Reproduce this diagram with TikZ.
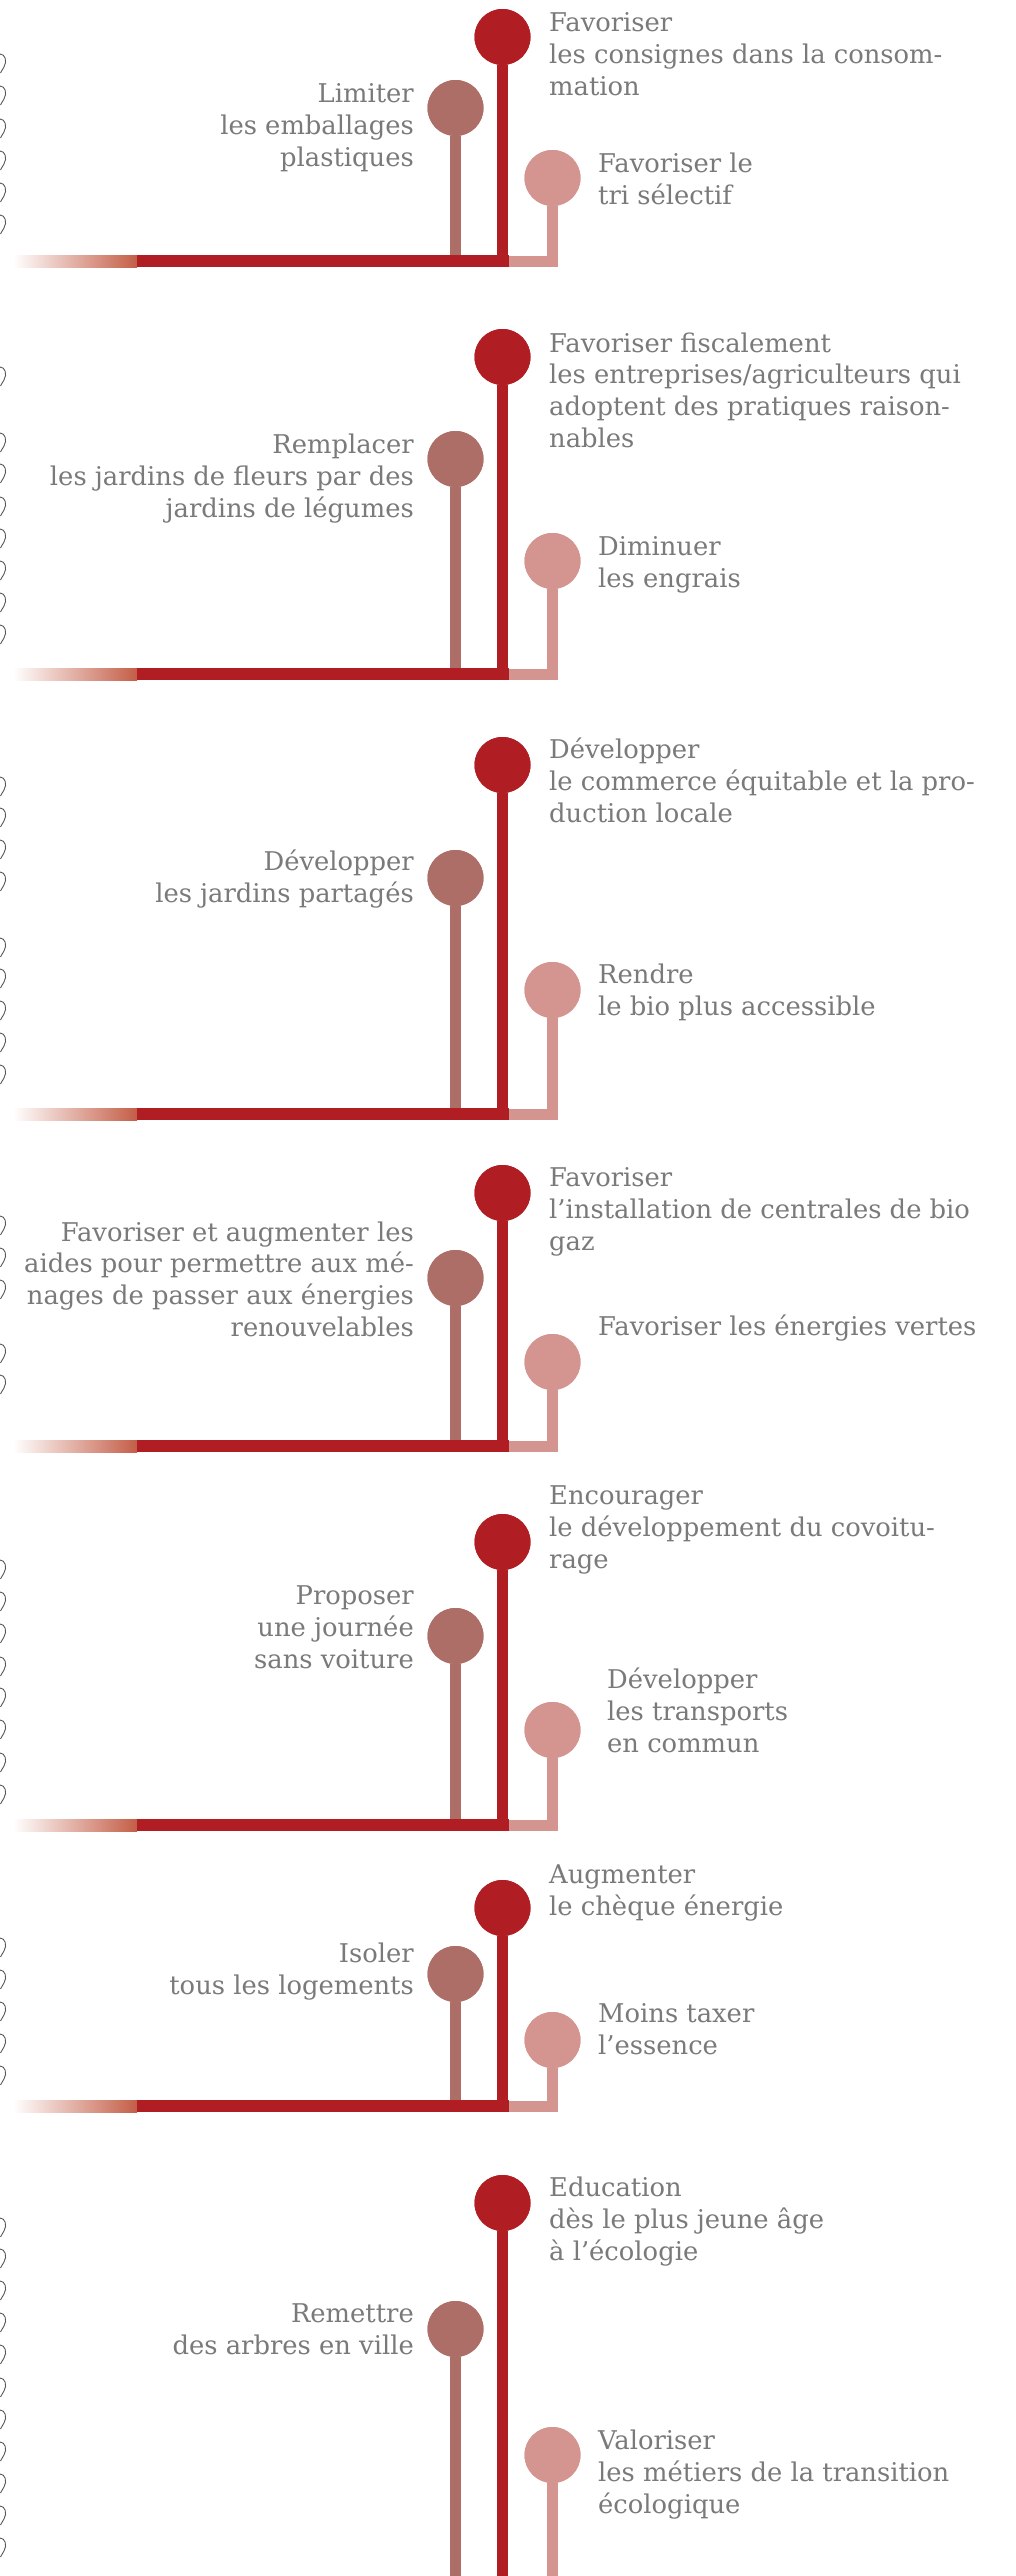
\documentclass[tikz,border=0pt]{standalone}
\usepackage{fontspec}
\setmainfont{DejaVu Serif}
\definecolor{bigred}{HTML}{B01E23}
\definecolor{midbrown}{HTML}{AD6E68}
\definecolor{lightpink}{HTML}{D4948F}
\definecolor{textgray}{HTML}{7A7A7A}
\definecolor{gradend}{HTML}{C45E48}
\definecolor{scalgray}{HTML}{555555}
\tikzset{
  dotbig/.style={circle, fill=bigred, minimum size=56pt, inner sep=0pt},
  dotmid/.style={circle, fill=midbrown, minimum size=56pt, inner sep=0pt},
  dotlight/.style={circle, fill=lightpink, minimum size=56pt, inner sep=0pt},
  stembig/.style={draw=bigred, line width=11pt},
  stemmid/.style={draw=midbrown, line width=11pt},
  stemlight/.style={draw=lightpink, line width=11pt, line join=miter},
  rtxt/.style={anchor=base west, align=left, inner sep=0pt, text=textgray,
    font=\fontsize{25.8}{31.6}\selectfont},
  ltxt/.style={anchor=base east, align=right, inner sep=0pt, text=textgray,
    font=\fontsize{25.8}{31.6}\selectfont},
  scal/.style={draw=scalgray, line width=0.9pt},
}
\newcommand\drawgroup[5]{% #1 id, #2 y big dot, #3 y mid dot, #4 y light dot, #5 y bar
  \coordinate (jm#1) at (455.5,#5);
  \coordinate (jl#1) at (552.5,#5);
  \coordinate (jb#1) at (508,#5);
  \coordinate (bb#1) at (502.5,#5);
  \node[dotbig] (b#1) at (502.5,#2) {};
  \node[dotmid] (m#1) at (455.5,#3) {};
  \node[dotlight] (l#1) at (552.5,#4) {};
  \draw[stemmid] (m#1) -- (jm#1);
  \draw[stemlight] (l#1) -- (jl#1) -- (jb#1);
  \shade[left color=white, right color=gradend] (13,#5-6) rectangle (137,#5+6);
  \fill[bigred] (137,#5-6) rectangle (509,#5+6);
  \draw[stembig] (b#1) -- (bb#1);
  \node[dotbig] at (b#1) {};
  \node[dotmid] at (m#1) {};
  \node[dotlight] at (l#1) {};
}
\newcommand\scallop[1]{%
  \draw[scal] (0,#1-9) .. controls (5,#1-9) and (7.5,#1-2) .. (4,#1+4)
    .. controls (2.5,#1+6.5) and (1.5,#1+8) .. (0.5,#1+10);}
\begin{document}
\begin{tikzpicture}[x=1pt,y=-1pt]
\fill[white] (0,0) rectangle (1016,2576);
\useasboundingbox (0,0) rectangle (1016,2576);

% scallops along the left edge
\foreach \yy in {63,95,128,160,192,224,
                 376,442,473,506,538,570,602,634,
                 786,817,849,881,947,978,1010,1042,1074,
                 1225,1257,1289,1353,1384,
                 1569,1601,1633,1666,1697,1729,1762,1794,
                 1947,1979,2011,2043,2075,
                 2227,2258,2290,2322,2354,2387,2419,2451,2483,2515,2547}
  {\scallop{\yy}}

% groups 1 to 6
\drawgroup{1}{37}{108}{178}{261}
\drawgroup{2}{357}{459}{561}{674}
\drawgroup{3}{765}{878}{990}{1114}
\drawgroup{4}{1193}{1278}{1362}{1446}
\drawgroup{5}{1542}{1636}{1730}{1825}
\drawgroup{6}{1908}{1974}{2040}{2106}

% group 7 (stems run off the bottom)
\coordinate (jm7) at (455.5,2580);
\coordinate (jb7) at (502.5,2580);
\coordinate (jl7) at (552.5,2580);
\node[dotbig] (b7) at (502.5,2203) {};
\node[dotmid] (m7) at (455.5,2329) {};
\node[dotlight] (l7) at (552.5,2455) {};
\draw[stemmid] (m7) -- (jm7);
\draw[stembig] (b7) -- (jb7);
\draw[stemlight] (l7) -- (jl7);
\node[dotbig] at (b7) {};
\node[dotmid] at (m7) {};
\node[dotlight] at (l7) {};

% texts (anchored at the baseline of their last line)
\node[rtxt] (t1a) at (549,95) {Favoriser\\les consignes dans la consom-\\mation};
\node[ltxt] (t1b) at (414,166) {Limiter\\les emballages\\plastiques};
\node[rtxt] (t1c) at (598,204) {Favoriser le\\tri sélectif};

\node[rtxt] (t2a) at (549,447) {Favoriser fiscalement\\les entreprises/agriculteurs qui\\adoptent des pratiques raison-\\nables};
\node[ltxt] (t2b) at (414,517) {Remplacer\\les jardins de fleurs par des\\jardins de légumes};
\node[rtxt] (t2c) at (598,587) {Diminuer\\les engrais};

\node[rtxt] (t3a) at (549,822) {Développer\\le commerce équitable et la pro-\\duction locale};
\node[ltxt] (t3b) at (414,902) {Développer\\les jardins partagés};
\node[rtxt] (t3c) at (598,1015) {Rendre\\le bio plus accessible};

\node[rtxt] (t4a) at (549,1250) {Favoriser\\l’installation de centrales de bio\\gaz};
\node[ltxt] (t4b) at (414,1336) {Favoriser et augmenter les\\aides pour permettre aux mé-\\nages de passer aux énergies\\renouvelables};
\node[rtxt] (t4c) at (598,1335) {Favoriser les énergies vertes};

\node[rtxt] (t5a) at (549,1568) {Encourager\\le développement du covoitu-\\rage};
\node[ltxt] (t5b) at (414,1668) {Proposer\\une journée\\sans voiture};
\node[rtxt] (t5c) at (607,1752) {Développer\\les transports\\en commun};

\node[rtxt] (t6a) at (549,1915) {Augmenter\\le chèque énergie};
\node[ltxt] (t6b) at (414,1994) {Isoler\\tous les logements};
\node[rtxt] (t6c) at (598,2054) {Moins taxer\\l’essence};

\node[rtxt] (t7a) at (549,2260) {Education\\dès le plus jeune âge\\à l’écologie};
\node[ltxt] (t7b) at (414,2354) {Remettre\\des arbres en ville};
\node[rtxt] (t7c) at (598,2513) {Valoriser\\les métiers de la transition\\écologique};
\end{tikzpicture}
\end{document}
